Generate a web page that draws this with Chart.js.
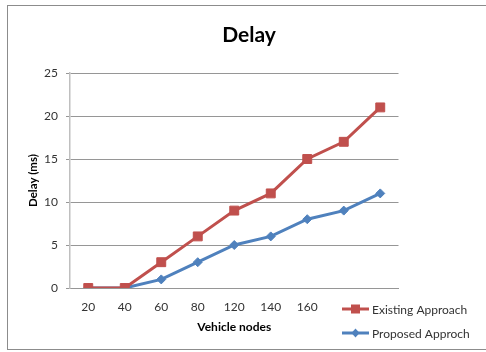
<!DOCTYPE html>
<html>
<head>
<meta charset="utf-8">
<script src="https://cdn.jsdelivr.net/npm/chart.js@4/dist/chart.umd.min.js"></script>
<style>
  html, body { margin: 0; padding: 0; background: #fff; }
  #wrap { position: relative; width: 486px; height: 352px; overflow: hidden; }
  #frame { position: absolute; left: 7px; top: 5px; width: 490px; height: 343px; border: 1px solid #8c8c8c; pointer-events: none; }
</style>
</head>
<body>
<div id="wrap">
  <canvas id="c" width="486" height="352"></canvas>
  <div id="frame"></div>
</div>
<script>
const categories = ["20", "40", "60", "80", "120", "140", "160", "", ""];
const existingApproach = [0, 0, 3, 6, 9, 11, 15, 17, 21];
const proposedApproch = [0, 0, 1, 3, 5, 6, 8, 9, 11];
const seriesNames = ["Existing Approach", "Proposed Approch"];
const yTicks = [0, 5, 10, 15, 20, 25];

const RED = '#C0504D';
const BLUE = '#4F81BD';
const FONT = 'Lato, "Liberation Sans", sans-serif';

const legendPlugin = {
  id: 'customLegend',
  afterDraw(chart) {
    const ctx = chart.ctx;
    const items = [
      { y: 309, ds: chart.data.datasets[0] },
      { y: 333, ds: chart.data.datasets[1] }
    ];
    ctx.save();
    items.forEach(it => {
      const c = it.ds.borderColor;
      ctx.strokeStyle = c;
      ctx.lineWidth = 3;
      ctx.beginPath();
      ctx.moveTo(342, it.y);
      ctx.lineTo(369, it.y);
      ctx.stroke();
      ctx.fillStyle = c;
      ctx.beginPath();
      if (it.ds.pointStyle === 'rect') {
        ctx.rect(351, it.y - 4.5, 9, 9);
      } else {
        ctx.moveTo(355.5, it.y - 4.5);
        ctx.lineTo(359.5, it.y);
        ctx.lineTo(355.5, it.y + 4.5);
        ctx.lineTo(351.5, it.y);
        ctx.closePath();
      }
      ctx.fill();
      ctx.fillStyle = '#333333';
      ctx.font = '12px ' + FONT;
      ctx.textBaseline = 'middle';
      ctx.textAlign = 'left';
      ctx.fillText(it.ds.label, 372, it.y + 1);
    });
    ctx.restore();
  }
};

new Chart(document.getElementById('c'), {
  type: 'line',
  data: {
    labels: categories,
    datasets: [
      {
        label: seriesNames[0],
        data: existingApproach,
        borderColor: RED,
        backgroundColor: RED,
        borderWidth: 3,
        pointStyle: 'rect',
        pointRadius: 6.3,
        pointBorderWidth: 1,
        pointBackgroundColor: RED,
        pointBorderColor: RED,
        tension: 0
      },
      {
        label: seriesNames[1],
        data: proposedApproch,
        borderColor: BLUE,
        backgroundColor: BLUE,
        borderWidth: 3,
        pointStyle: 'rectRot',
        pointRadius: 4.5,
        pointBorderWidth: 1,
        pointBackgroundColor: BLUE,
        pointBorderColor: BLUE,
        tension: 0
      }
    ]
  },
  options: {
    responsive: false,
    animation: false,
    layout: { padding: { left: 12, right: 0, top: 0, bottom: 0 } },
    plugins: {
      legend: { display: false },
      tooltip: { enabled: false },
      title: {
        display: true,
        text: 'Delay',
        color: '#000',
        font: { family: FONT, size: 21, weight: 'bold', lineHeight: 1.2 },
        padding: { top: 22.4, bottom: 25.4 }
      }
    },
    scales: {
      x: {
        offset: true,
        grid: { display: false, drawTicks: false },
        border: { display: true, color: '#969696', width: 1 },
        ticks: {
          color: '#333333',
          font: { family: FONT, size: 12 },
          padding: 12,
          maxRotation: 0,
          autoSkip: false
        },
        title: {
          display: true,
          text: 'Vehicle nodes',
          color: '#000',
          font: { family: FONT, size: 12, weight: 'bold', lineHeight: 1.2 },
          padding: { top: 0, bottom: 17.8 }
        },
        afterFit(scale) { scale.height = 64; }
      },
      y: {
        min: 0,
        max: 25,
        afterBuildTicks(scale) { scale.ticks = yTicks.map(v => ({ value: v })); },
        grid: { color: '#969696', lineWidth: 1, drawTicks: true, tickLength: 4 },
        border: { display: true, color: '#bfbfbf', width: 1.5 },
        ticks: {
          color: '#333333',
          font: { family: FONT, size: 12 },
          padding: 8
        },
        title: {
          display: true,
          text: 'Delay (ms)',
          color: '#000',
          font: { family: FONT, size: 11.5, weight: 'bold', lineHeight: 1.2 },
          padding: { top: 14, bottom: 0 }
        },
        afterFit(scale) { scale.width = 58; }
      },
      spacer: {
        type: 'linear',
        position: 'right',
        display: true,
        grid: { display: false, drawTicks: false },
        border: { display: false },
        ticks: { display: false },
        afterFit(scale) { scale.width = 87.5; }
      }
    }
  },
  plugins: [legendPlugin]
});
</script>
</body>
</html>
